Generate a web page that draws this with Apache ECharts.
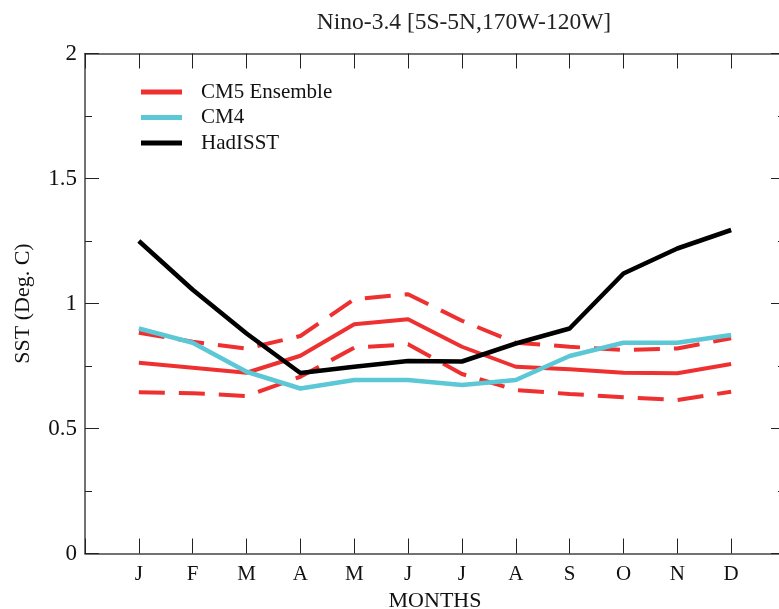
<!DOCTYPE html>
<html>
<head>
<meta charset="utf-8">
<script src="https://cdn.jsdelivr.net/npm/echarts@6/dist/echarts.min.js"></script>
<style>html,body{margin:0;padding:0;background:#fff;}#c{width:779px;height:609px;}</style>
</head>
<body>
<div id="c"></div>
<script>
const months = ['J','F','M','A','M','J','J','A','S','O','N','D'];
const yTicks = [0, 0.5, 1, 1.5, 2];
const hadisst  = [1.25, 1.055, 0.88, 0.722, 0.747, 0.77, 0.768, 0.84, 0.90, 1.12, 1.22, 1.294];
const cm4      = [0.90, 0.843, 0.727, 0.66, 0.694, 0.694, 0.674, 0.694, 0.79, 0.843, 0.843, 0.874];
const cm5Mean  = [0.763, 0.743, 0.723, 0.791, 0.917, 0.937, 0.827, 0.747, 0.737, 0.723, 0.721, 0.758];
const cm5Upper = [0.883, 0.847, 0.82, 0.87, 1.017, 1.037, 0.931, 0.843, 0.827, 0.814, 0.82, 0.861];
const cm5Lower = [0.645, 0.641, 0.63, 0.707, 0.823, 0.837, 0.718, 0.654, 0.638, 0.625, 0.614, 0.647];

const toXY = arr => arr.map((v, i) => [i + 1, v]);
const RED = '#EE3030', CYAN = '#5CC8D6', BLACK = '#000000';
const FONT = 'Liberation Serif';
const axisCol = '#444';
const tickStyle = { color: '#222', width: 1 };

const chart = echarts.init(document.getElementById('c'));
chart.setOption({
  animation: false,
  backgroundColor: '#fff',
  title: {
    text: 'Nino-3.4 [5S-5N,170W-120W]',
    left: 459, top: 6, textAlign: 'center',
    textStyle: { fontFamily: FONT, fontSize: 23.5, fontWeight: 'normal', color: '#222' }
  },
  legend: {
    left: 136, top: 76.5, orient: 'vertical', itemGap: 4.5,
    itemWidth: 41, itemHeight: 5, icon: 'rect',
    data: ['CM5 Ensemble', 'CM4', 'HadISST'],
    textStyle: { fontFamily: FONT, fontSize: 21, lineHeight: 20, color: '#111', padding: [0, 0, 0, 14] }
  },
  grid: { left: 85, right: -6, top: 53.5, bottom: 55.5, outerBoundsMode: 'none', containLabel: false },
  xAxis: [{
    type: 'value', min: 0, max: 13, interval: 1,
    axisLine: { onZero: false, lineStyle: { color: axisCol, width: 1.5 } },
    axisTick: { inside: true, length: 15, lineStyle: tickStyle },
    splitLine: { show: false },
    axisLabel: {
      fontFamily: FONT, fontSize: 21, color: '#111', margin: 10,
      formatter: v => (v >= 1 && v <= 12) ? months[v - 1] : ''
    },
    name: 'MONTHS', nameLocation: 'middle', nameGap: 37,
    nameTextStyle: { fontFamily: FONT, fontSize: 22, color: '#111' }
  }, {
    type: 'value', min: 0, max: 13, interval: 1, position: 'top',
    axisLine: { show: true, onZero: false, lineStyle: { color: axisCol, width: 1.5 } },
    axisTick: { inside: true, length: 15, lineStyle: tickStyle },
    splitLine: { show: false }, axisLabel: { show: false }
  }],
  yAxis: [{
    type: 'value', min: yTicks[0], max: yTicks[yTicks.length - 1], interval: 0.5,
    axisLine: { show: true, onZero: false, lineStyle: { color: axisCol, width: 1.5 } },
    axisTick: { inside: true, length: 14, lineStyle: tickStyle },
    minorTick: { show: true, splitNumber: 2, length: 7, lineStyle: tickStyle },
    splitLine: { show: false },
    axisLabel: { fontFamily: FONT, fontSize: 23, color: '#111', margin: 8 },
    name: 'SST (Deg. C)', nameLocation: 'middle', nameGap: 51, nameRotate: 90,
    nameTextStyle: { fontFamily: FONT, fontSize: 22, color: '#111' }
  }, {
    type: 'value', min: 0, max: 2, interval: 0.5, position: 'right',
    axisLine: { show: true, onZero: false, lineStyle: { color: axisCol, width: 1.5 } },
    axisTick: { inside: true, length: 14, lineStyle: tickStyle },
    minorTick: { show: true, splitNumber: 2, length: 7, lineStyle: tickStyle },
    splitLine: { show: false }, axisLabel: { show: false }
  }],
  series: [
    { name: 'CM5 Ensemble', type: 'line', data: toXY(cm5Mean), symbol: 'none', color: RED,
      lineStyle: { color: RED, width: 4 }, z: 3 },
    { name: 'CM5 Upper', type: 'line', data: toXY(cm5Upper), symbol: 'none', color: RED,
      lineStyle: { color: RED, width: 4, type: [26, 14] }, z: 3 },
    { name: 'CM5 Lower', type: 'line', data: toXY(cm5Lower), symbol: 'none', color: RED,
      lineStyle: { color: RED, width: 4, type: [26, 14] }, z: 3 },
    { name: 'CM4', type: 'line', data: toXY(cm4), symbol: 'none', color: CYAN,
      lineStyle: { color: CYAN, width: 4.5 }, z: 4 },
    { name: 'HadISST', type: 'line', data: toXY(hadisst), symbol: 'none', color: BLACK,
      lineStyle: { color: BLACK, width: 4.5 }, z: 5 }
  ]
});
</script>
</body>
</html>
